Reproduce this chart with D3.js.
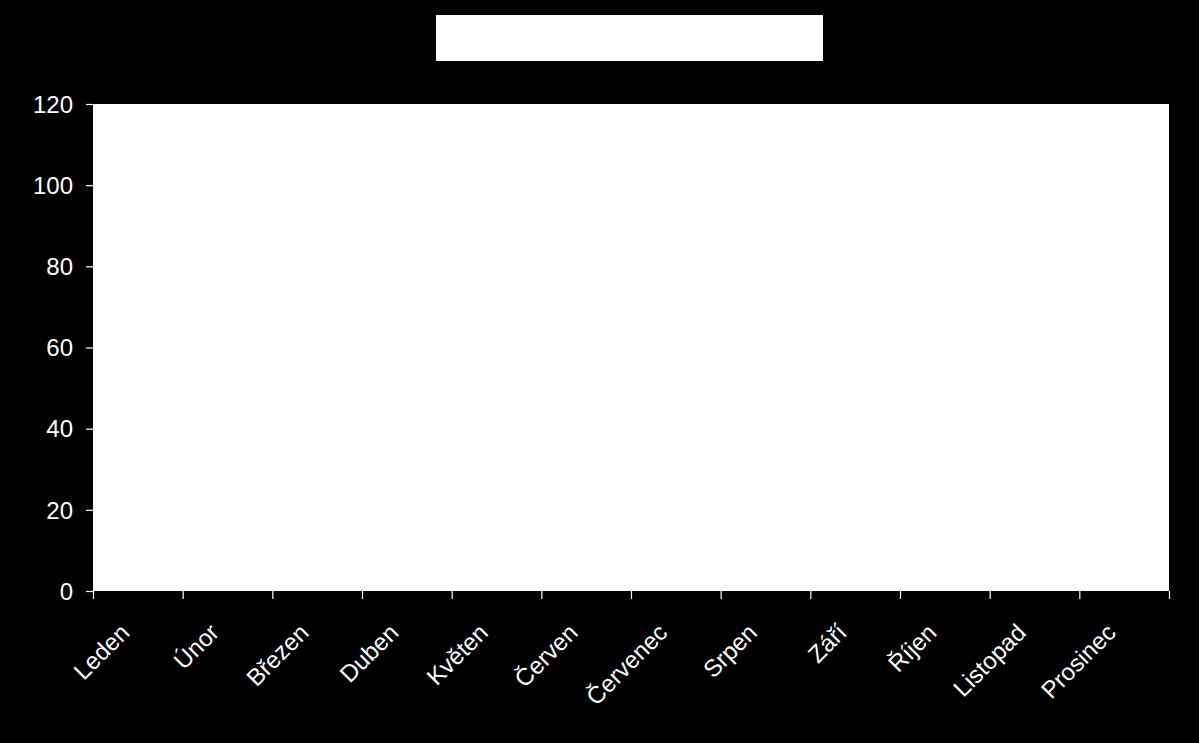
<!DOCTYPE html>
<html>
<head>
<meta charset="utf-8">
<script src="https://cdn.jsdelivr.net/npm/d3@7/dist/d3.min.js"></script>
<style>
  html, body { margin: 0; padding: 0; background: #000; }
  svg { display: block; }
</style>
</head>
<body>
<svg id="chart" width="1199" height="743"></svg>
<script>
// ---- data ----
const categories = ["Leden", "Únor", "Březen", "Duben", "Květen", "Červen",
                    "Červenec", "Srpen", "Září", "Říjen", "Listopad", "Prosinec"];
const seriesValues = [0, 0, 0, 0, 0, 0, 0, 0, 0, 0, 0, 0];
const yTickValues = [0, 20, 40, 60, 80, 100, 120];
const chartTitle = "";

// ---- layout ----
const W = 1199, H = 743;
const plot = { left: 93, right: 1169, top: 104, bottom: 591 };
const font = "'Liberation Sans', Arial, sans-serif";
const fontSize = 24;

const svg = d3.select("#chart");
svg.append("rect").attr("width", W).attr("height", H).attr("fill", "#000");

// title box
svg.append("rect")
  .attr("x", 436).attr("y", 15).attr("width", 387).attr("height", 46)
  .attr("fill", "#fff");
svg.append("text")
  .attr("x", 629.5).attr("y", 38).attr("text-anchor", "middle")
  .attr("dominant-baseline", "central")
  .attr("font-family", font).attr("font-size", 22).attr("fill", "#fff")
  .text(chartTitle);

// plot area
svg.append("rect")
  .attr("x", plot.left).attr("y", plot.top)
  .attr("width", plot.right - plot.left).attr("height", plot.bottom - plot.top)
  .attr("fill", "#fff");

// scales
const y = d3.scaleLinear().domain([0, 120]).range([plot.bottom, plot.top]);
const x = d3.scaleBand().domain(categories).range([plot.left, plot.right]).padding(0);
const xEdges = d3.scaleLinear().domain([0, categories.length]).range([plot.left, plot.right]);

// bars (series — all zero in this chart)
svg.append("g").selectAll("rect").data(seriesValues).join("rect")
  .attr("x", (d, i) => x(categories[i]) + x.bandwidth() * 0.2)
  .attr("width", x.bandwidth() * 0.6)
  .attr("y", d => y(d))
  .attr("height", d => y(0) - y(d))
  .attr("fill", "#000");

// y axis
const yAxis = svg.append("g")
  .attr("transform", `translate(${plot.left},0)`)
  .call(d3.axisLeft(y).tickValues(yTickValues).tickSize(7).tickPadding(13));
yAxis.select(".domain").remove();
yAxis.selectAll(".tick line").attr("stroke", "#fff").attr("stroke-width", 1.2);
yAxis.selectAll(".tick text")
  .attr("fill", "#fff").attr("font-family", font).attr("font-size", fontSize)
  .attr("dy", "0.34em");

// x axis ticks at band edges
const xAxis = svg.append("g")
  .attr("transform", `translate(0,${plot.bottom})`)
  .call(d3.axisBottom(xEdges).tickValues(d3.range(categories.length + 1))
        .tickSize(8).tickFormat(""));
xAxis.select(".domain").remove();
xAxis.selectAll(".tick line").attr("stroke", "#fff").attr("stroke-width", 1.2);

// x labels, rotated -45
svg.append("g").selectAll("text").data(categories).join("text")
  .attr("transform", d => `translate(${x(d) + x.bandwidth() / 2 - 7},${plot.bottom + 43}) rotate(-45)`)
  .attr("text-anchor", "end")
  .attr("font-family", font).attr("font-size", fontSize)
  .attr("fill", "#fff")
  .text(d => d);
</script>
</body>
</html>
